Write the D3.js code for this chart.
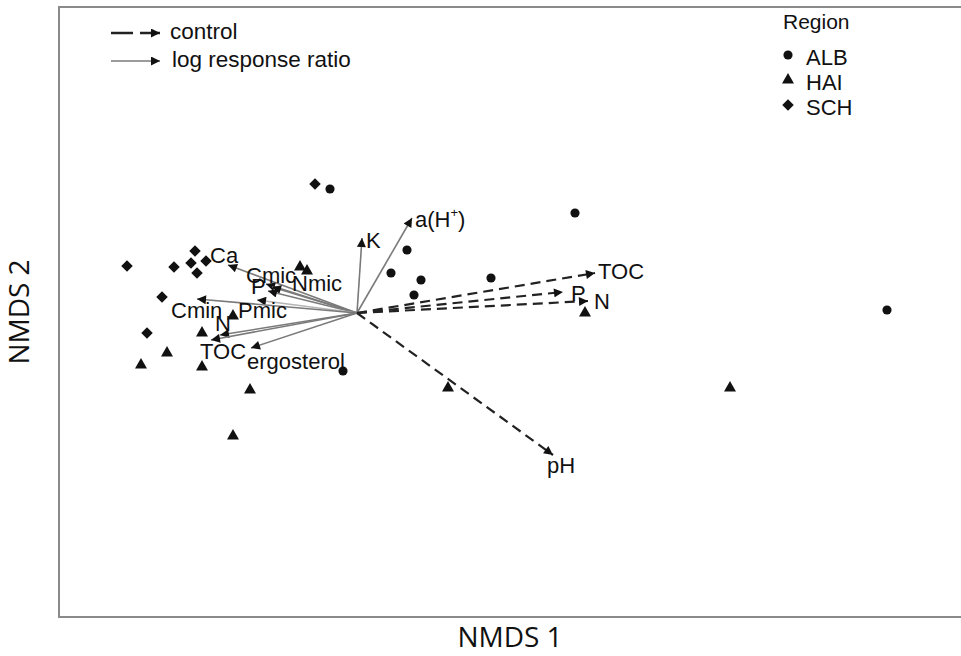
<!DOCTYPE html>
<html>
<head>
<meta charset="utf-8">
<script src="https://cdn.jsdelivr.net/npm/d3@7"></script>
<style>
  body { margin: 0; background: #fff; }
  text { font-family: "Liberation Sans", Arial, sans-serif; fill: #111; }
  .axis-title { font-family: "Open Sans", sans-serif; }
</style>
</head>
<body>
<svg id="chart" width="961" height="656"></svg>
<script>
// site scores (NMDS 1, NMDS 2)
const alb = [[-0.135, 0.62], [1.09, 0.50], [0.25, 0.315], [0.17, 0.20], [0.32, 0.165],
    [0.67, 0.175], [0.285, 0.09], [2.65, 0.015], [-0.07, -0.29]];
const hai = [[-0.285, 0.23], [-0.25, 0.21], [-0.62, -0.015], [-0.775, -0.10], [-0.95, -0.20],
    [-1.08, -0.26], [-0.775, -0.27], [-0.535, -0.385], [-0.62, -0.615], [0.455, -0.375],
    [1.865, -0.375], [1.14, 0.0]];
const sch = [[-0.21, 0.645], [-0.81, 0.31], [-1.15, 0.235], [-0.915, 0.23], [-0.83, 0.25],
    [-0.755, 0.26], [-0.80, 0.20], [-0.975, 0.08], [-1.05, -0.10]];

// fitted vectors
const controlNames = ["TOC", "P", "N", "pH"];
const controlVec = [[1.19, 0.20], [1.03, 0.105], [1.155, 0.06], [0.98, -0.71]];

const lrrNames = ["K", "a(H+)", "Ca", "Cmic", "Nmic", "P", "Pmic", "Cmin", "N", "TOC", "ergosterol"];
const lrrVec = [[0.025, 0.375], [0.275, 0.475], [-0.645, 0.24], [-0.455, 0.145], [-0.425, 0.13],
    [-0.445, 0.11], [-0.50, 0.065], [-0.80, 0.07], [-0.685, -0.11], [-0.73, -0.135], [-0.53, -0.175]];

const regions = ["ALB", "HAI", "SCH"];

// label nudges in px (layout only)
const controlNudge = [[3, 0], [8, 3], [6, 2], [-6, 12]];
const lrrNudge = [[4, 4], [3, 3], [-18, -8], [-20, -7], [20, -2], [-17, -3], [-19, 12], [-26, 13], [-5, -10], [-11, 13], [-4, 15]];

const svg = d3.select("#chart");
const x = d3.scaleLinear().domain([-1.49, 3.03]).range([59, 963]);
const y = d3.scaleLinear().domain([-1.52, 1.53]).range([617, 7]);

// frame
svg.append("rect").attr("x", 59).attr("y", 7).attr("width", 910).attr("height", 610)
    .attr("fill", "none").attr("stroke", "#8a8a8a").attr("stroke-width", 2);

let defs = svg.append("defs");
defs.append("marker").attr("id", "head").attr("viewBox", "0 0 10 10")
    .attr("refX", 10).attr("refY", 5).attr("markerWidth", 12).attr("markerHeight", 9)
    .attr("markerUnits", "userSpaceOnUse").attr("orient", "auto")
    .append("path").attr("d", "M0,0L10,5L0,10Z").attr("fill", "#111");

const sym = {
    ALB: d3.symbol().type(d3.symbolCircle).size(66),
    HAI: d3.symbol().type(d3.symbolTriangle).size(62),
    SCH: d3.symbol().type(d3.symbolSquare).size(66)
};
const rot = {ALB: "", HAI: "", SCH: " rotate(45)"};

function drawPoints(pts, region) {
    svg.append("g").selectAll("path").data(pts).enter().append("path")
        .attr("d", sym[region])
        .attr("transform", d => "translate(" + x(d[0]) + "," + y(d[1]) + ")" + rot[region])
        .attr("fill", "#111");
}
drawPoints(alb, "ALB");
drawPoints(hai, "HAI");
drawPoints(sch, "SCH");

// log response ratio arrows
svg.append("g").selectAll("line").data(lrrVec).enter().append("line")
    .attr("x1", x(0)).attr("y1", y(0))
    .attr("x2", d => x(d[0])).attr("y2", d => y(d[1]))
    .attr("stroke", (d, i) => lrrNames[i] == "Pmic" ? "#b5b5b5" : "#7a7a7a")
    .attr("stroke-width", 1.6)
    .attr("marker-end", "url(#head)");

// control arrows
svg.append("g").selectAll("line").data(controlVec).enter().append("line")
    .attr("x1", x(0)).attr("y1", y(0))
    .attr("x2", d => x(d[0])).attr("y2", d => y(d[1]))
    .attr("stroke", "#222").attr("stroke-width", 2.2)
    .attr("stroke-dasharray", "10,6")
    .attr("marker-end", "url(#head)");

function vecLabels(vec, names, nudge) {
    svg.append("g").selectAll("text").data(vec).enter().append("text")
        .attr("x", (d, i) => x(d[0]) + nudge[i][0])
        .attr("y", (d, i) => y(d[1]) + nudge[i][1])
        .attr("dominant-baseline", "middle")
        .style("font-size", "22px")
        .each(function(d, i) {
            let t = d3.select(this);
            if (names[i] == "a(H+)") {
                t.append("tspan").text("a(H");
                t.append("tspan").text("+").style("font-size", "13px").attr("dy", -7);
                t.append("tspan").text(")").attr("dy", 7);
            } else {
                t.text(names[i]);
            }
        });
}
vecLabels(lrrVec, lrrNames, lrrNudge);
vecLabels(controlVec, controlNames, controlNudge);

// legend: arrow types
const lg = svg.append("g");
lg.append("line").attr("x1", 111).attr("y1", 33).attr("x2", 160).attr("y2", 33)
    .attr("stroke", "#222").attr("stroke-width", 2.5).attr("stroke-dasharray", "22,7")
    .attr("marker-end", "url(#head)");
lg.append("line").attr("x1", 111).attr("y1", 61).attr("x2", 160).attr("y2", 61)
    .attr("stroke", "#7a7a7a").attr("stroke-width", 1.6)
    .attr("marker-end", "url(#head)");
lg.append("text").attr("x", 170).attr("y", 33).attr("dominant-baseline", "middle")
    .style("font-size", "22.5px").text("control");
lg.append("text").attr("x", 172).attr("y", 61).attr("dominant-baseline", "middle")
    .style("font-size", "22.5px").text("log response ratio");

// legend: regions
const rg = svg.append("g");
rg.append("text").attr("x", 783).attr("y", 23).attr("dominant-baseline", "middle")
    .style("font-size", "21px").text("Region");
regions.forEach(function(r, i) {
    rg.append("path").attr("d", sym[r]).attr("fill", "#111")
        .attr("transform", "translate(" + 788 + "," + (55 + i * 25) + ")" + rot[r]);
    rg.append("text").attr("x", 806).attr("y", 59 + i * 25).attr("dominant-baseline", "middle")
        .style("font-size", "22px").text(r);
});

// axis titles
svg.append("text").attr("class", "axis-title").attr("x", 510).attr("y", 640)
    .attr("text-anchor", "middle").attr("dominant-baseline", "middle")
    .style("font-size", "28px").text("NMDS 1");
svg.append("text").attr("class", "axis-title")
    .attr("transform", "translate(22,312) rotate(-90)")
    .attr("text-anchor", "middle").attr("dominant-baseline", "middle")
    .style("font-size", "28px").text("NMDS 2");
</script>
</body>
</html>
